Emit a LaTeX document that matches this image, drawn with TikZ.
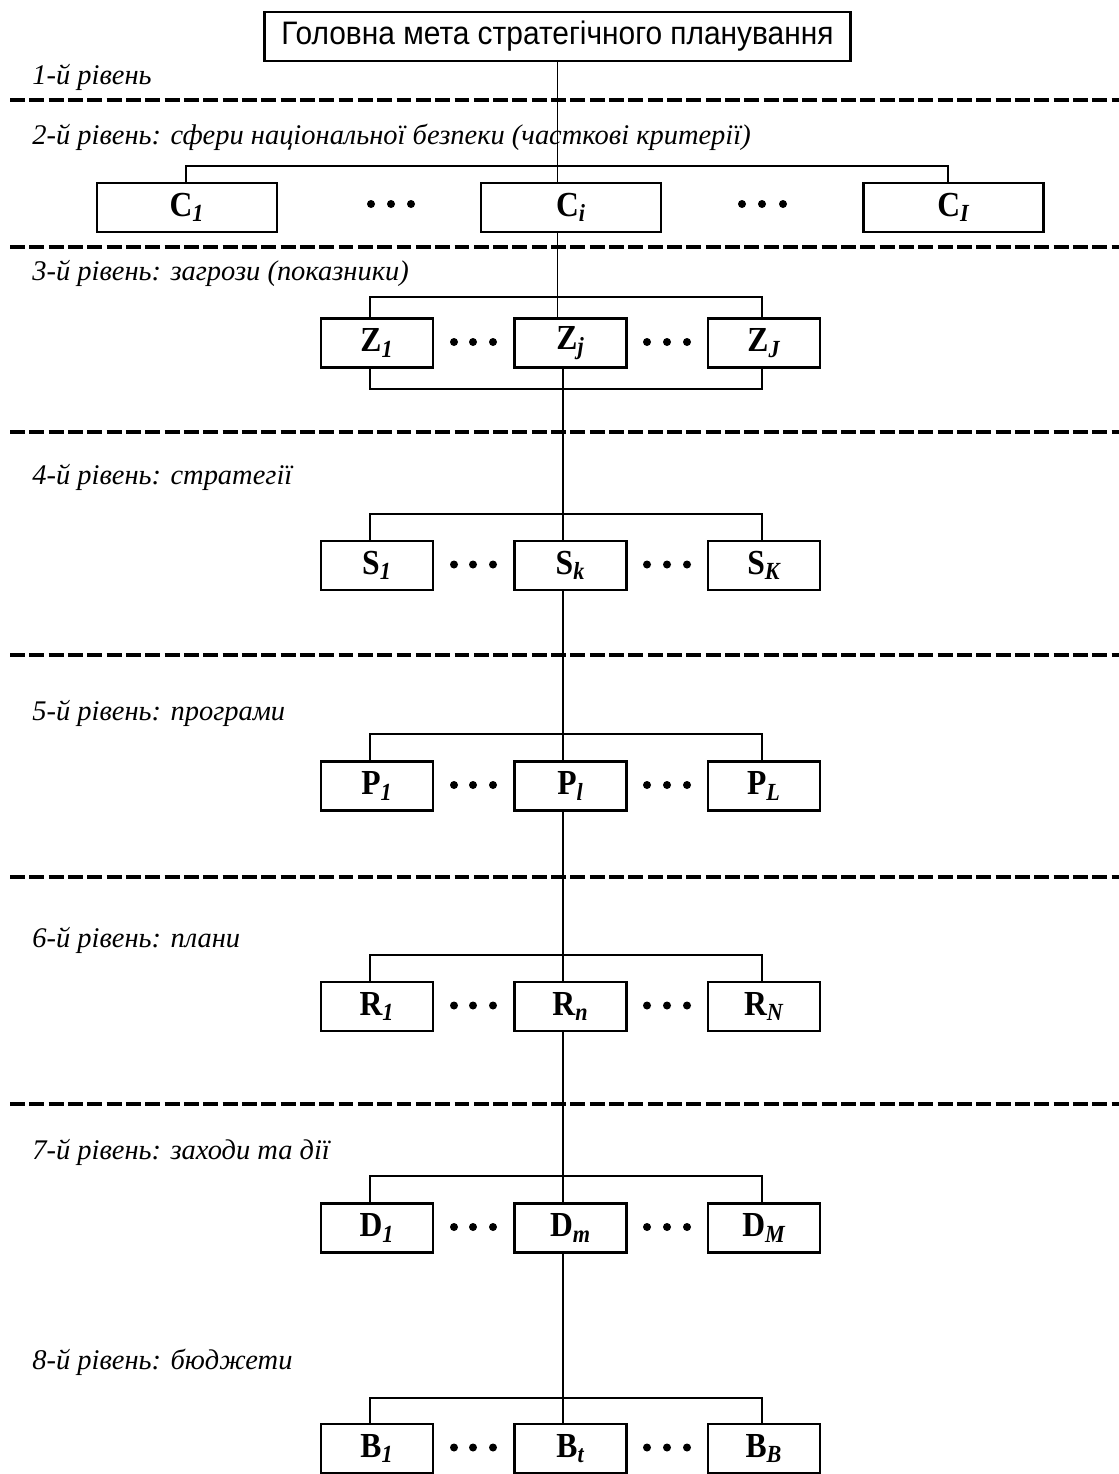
\documentclass[tikz,border=0pt]{standalone}
\usepackage{fontspec}
\setmainfont{Liberation Serif}
\newfontfamily\headfont[FakeStretch=0.92]{Liberation Sans}
\newfontfamily\boxfont[FakeStretch=0.9]{Liberation Serif}
\usetikzlibrary{calc}

\begin{document}
\begin{tikzpicture}[x=0.02cm, y=-0.02cm,
	box/.style = {draw, line width=1.4pt, inner sep=0pt, minimum height=0.98cm, font=\boxfont\fontsize{20}{22}\selectfont\bfseries},
	smallbox/.style = {box, minimum width=2.24cm},
	widebox/.style = {box, minimum width=3.6cm},
	level/.style = {anchor=west, inner sep=0pt, font=\fontsize{16.2}{18}\selectfont\itshape},
	link/.style = {line width=0.9pt},
	sep/.style = {line width=1.9pt, dash pattern=on 8.5pt off 2.5pt},
	dot/.style = {circle, fill, inner sep=0pt, minimum size=0.16cm}]

	\useasboundingbox (0,0) rectangle (1119,1474);

	\node[draw, line width=1.4pt, inner sep=0pt, minimum width=11.72cm, minimum height=0.98cm, font=\headfont\fontsize{18.5}{20}\selectfont] (goal) at (557.5,36.5) {Головна мета стратегічного планування};

	\node[level] (L1) at (32,77) {1-й рівень};
	\node[level] (L2) at (32,137) {2-й рівень: сфери національної безпеки (часткові критерії)};
	\node[level] (L3) at (32,273) {3-й рівень: загрози (показники)};
	\node[level] (L4) at (32,477) {4-й рівень: стратегії};
	\node[level] (L5) at (32,713) {5-й рівень: програми};
	\node[level] (L6) at (32,940) {6-й рівень: плани};
	\node[level] (L7) at (32,1152) {7-й рівень: заходи та дії};
	\node[level] (L8) at (32,1362) {8-й рівень: бюджети};

	\foreach \y in {100,247,432,655,877,1104}
		\draw[sep] (10,\y) -- (1119,\y);

	\coordinate (spine) at (563,0);
	\coordinate (tickL) at (370,0);
	\coordinate (tickR) at (762,0);

	\node[widebox] (C-a) at (187,207.5) {C\textsubscript{\itshape 1}};
	\node[widebox] (C-b) at (571,207.5) {C\textsubscript{\itshape i}};
	\node[widebox] (C-c) at (953.5,207.5) {C\textsubscript{\itshape I}};
	\foreach \x [count=\d] in {371,391,411,742,762,783}
		\node[dot] (C dot\d) at (\x,204) {};
	\draw[link] (goal.south) -- (goal.south |- C-b.north);
	\draw[link] (186,166 |- C-a.north) -- (186,166) -- (948,166) -- (948,166 |- C-c.north);

	\node[smallbox] (Z-a) at (377,343) {Z\textsubscript{\itshape 1}};
	\node[smallbox] (Z-b) at (570.5,343) {Z\textsubscript{\itshape j}};
	\node[smallbox] (Z-c) at (764,343) {Z\textsubscript{\itshape J}};
	\foreach \x [count=\d] in {454,473,493,647,667,687}
		\node[dot] (Z dot\d) at (\x,342) {};
	\draw[link] (goal.south |- C-b.south) -- (goal.south |- Z-b.north);
	\draw[link] (tickL |- Z-a.north) |- (tickR |- 0,297) -- (tickR |- Z-c.north);
	\draw[link] (tickL |- Z-a.south) |- (tickR |- 0,389) -- (tickR |- Z-c.south);

	\foreach \name/\ctr/\bar/\mid/\hi [remember=\name as \prev (initially Z)] in
		{S/565.5/514/k/K, P/786/734/l/L, R/1006.5/955/n/N, D/1228/1176/m/M, B/1448.5/1398/t/B}
	{
		\node[smallbox] (\name-a) at (377,\ctr) {\name\textsubscript{\itshape 1}};
		\node[smallbox] (\name-b) at (570.5,\ctr) {\name\textsubscript{\itshape\mid}};
		\node[smallbox] (\name-c) at (764,\ctr) {\name\textsubscript{\itshape\hi}};
		\foreach \x [count=\d] in {454,473,493,647,667,687}
			\node[dot] (\name dot\d) at (\x,\ctr-1) {};
		\draw[link] (spine |- \prev-b.south) -- (spine |- \name-b.north);
		\draw[link] (tickL |- \name-a.north) |- (tickR |- 0,\bar) -- (tickR |- \name-c.north);
	}
\end{tikzpicture}
\end{document}
